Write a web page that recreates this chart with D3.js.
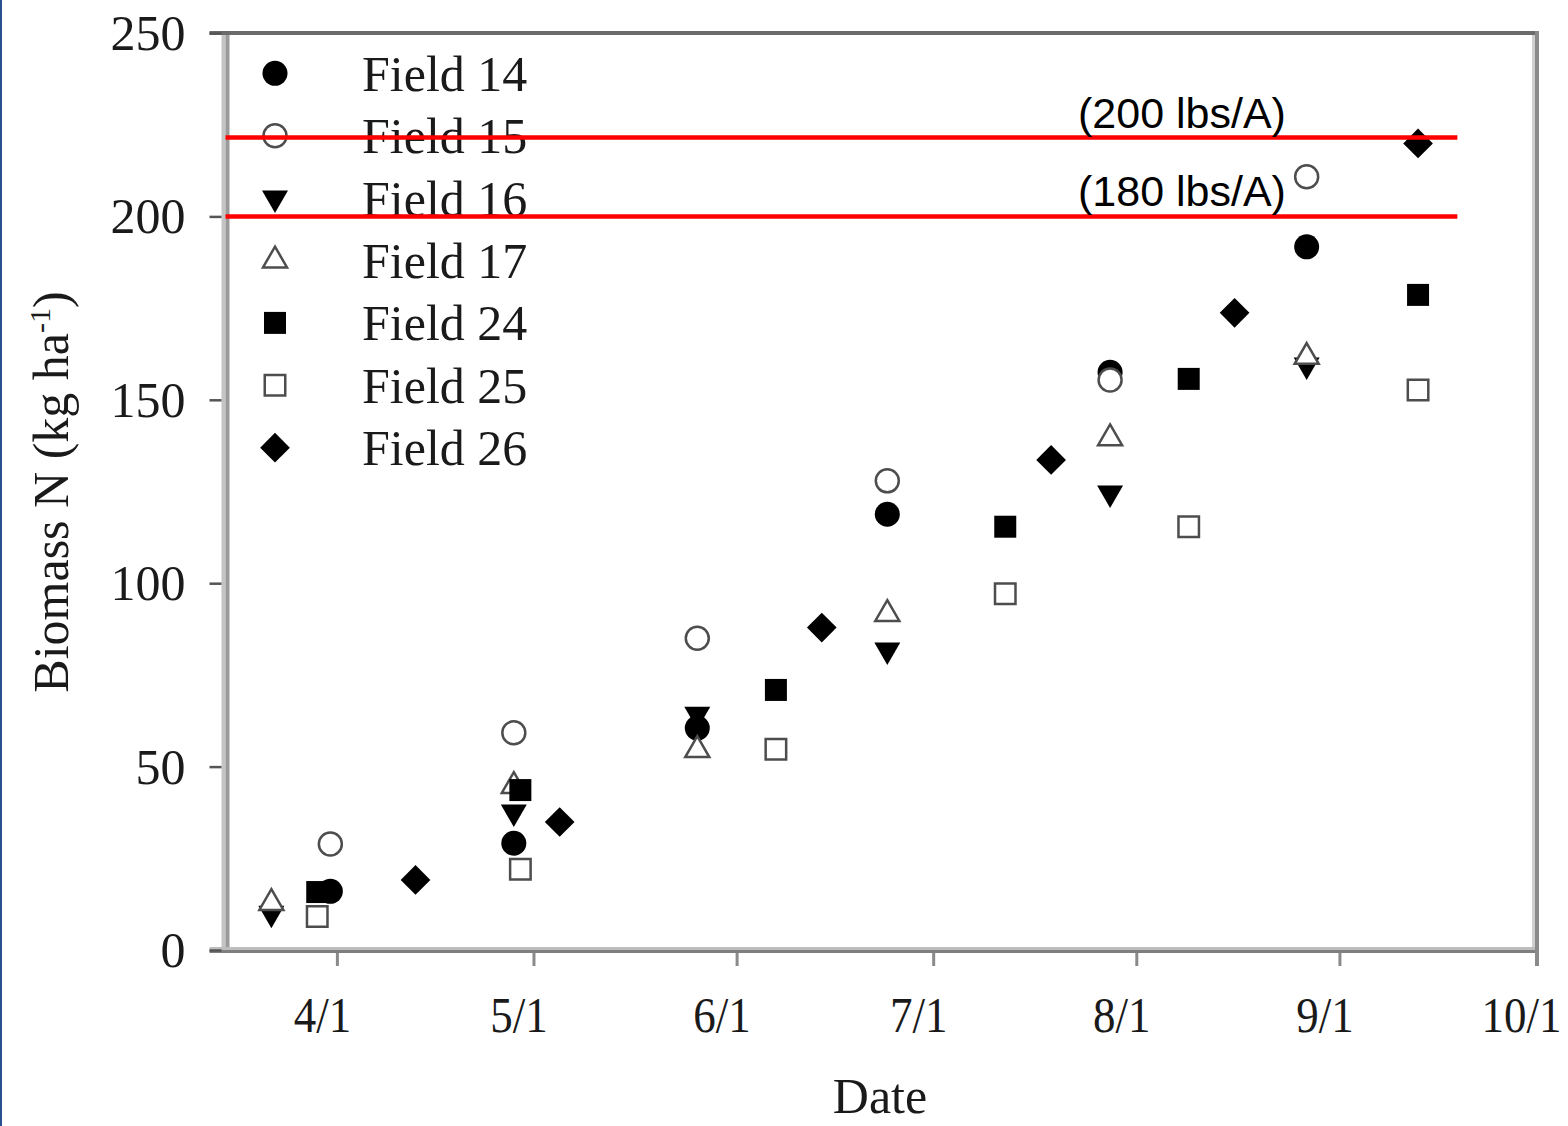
<!DOCTYPE html>
<html>
<head>
<meta charset="utf-8">
<script src="https://cdn.jsdelivr.net/npm/d3@7"></script>
<style>
  body { margin: 0; background: #fff; }
  svg { display: block; }
</style>
</head>
<body>
<div id="chartPlot"></div>
<script>
const fieldNames = ["Field 14", "Field 15", "Field 16", "Field 17", "Field 24", "Field 25", "Field 26"];

const field14 = [["3/31", 16.0], ["4/28", 29.1], ["5/26", 60.5], ["6/24", 118.8], ["7/28", 157.5], ["8/27", 191.7]];
const field15 = [["3/31", 28.9], ["4/28", 59.2], ["5/26", 85.0], ["6/24", 127.9], ["7/28", 155.4], ["8/27", 210.8]];
const field16 = [["3/22", 10.0], ["4/28", 37.6], ["5/26", 64.3], ["6/24", 81.8], ["7/28", 124.6], ["8/27", 159.5]];
const field17 = [["3/22", 12.8], ["4/28", 44.7], ["5/26", 54.5], ["6/24", 91.6], ["7/28", 139.5], ["8/27", 161.7]];
const field24 = [["3/29", 15.8], ["4/29", 43.6], ["6/7", 70.9], ["7/12", 115.4], ["8/9", 155.7], ["9/13", 178.6]];
const field25 = [["3/29", 9.1], ["4/29", 22.0], ["6/7", 54.7], ["7/12", 97.1], ["8/9", 115.4], ["9/13", 152.7]];
const field26 = [["4/13", 19.1], ["5/5", 34.9], ["6/14", 87.9], ["7/19", 133.6], ["8/16", 173.7], ["9/13", 219.9]];

const xTickLabels = ["4/1", "5/1", "6/1", "7/1", "8/1", "9/1", "10/1"];
const yTickValues = [0, 50, 100, 150, 200, 250];

const limitLabels = ["(200 lbs/A)", "(180 lbs/A)"];
const limitValues = [221.5, 200];

document.addEventListener("DOMContentLoaded", () => {
  const width = 1568;
  const height = 1126;
  const serif = "'Liberation Serif', 'Times New Roman', serif";
  const sans = "'Liberation Sans', Arial, sans-serif";

  const toDate = (s) => d3.timeParse("%m/%d/%Y")(s + "/2010");

  const series = [field14, field15, field16, field17, field24, field25, field26].map((rows, i) => ({
    name: fieldNames[i],
    points: rows.map(([d, v]) => ({ date: toDate(d), value: v })),
  }));

  // marker look for each field, in legend order
  const markers = [
    { type: d3.symbolCircle, size: Math.PI * 12.5 * 12.5, filled: true, rotate: 0 },
    { type: d3.symbolCircle, size: Math.PI * 11.5 * 11.5, filled: false, rotate: 0 },
    { type: d3.symbolTriangle, size: 292, filled: true, rotate: 180 },
    { type: d3.symbolTriangle, size: 250, filled: false, rotate: 0 },
    { type: d3.symbolSquare, size: 484, filled: true, rotate: 0 },
    { type: d3.symbolSquare, size: 420, filled: false, rotate: 0 },
    { type: d3.symbolSquare, size: 441, filled: true, rotate: 45 },
  ];

  const x = d3.scaleTime().domain([toDate("3/15"), toDate("10/1")]).range([225.5, 1536]);
  const y = d3.scaleLinear().domain([0, 250]).range([950, 33]);

  const svg = d3
    .select("#chartPlot")
    .append("svg")
    .attr("width", width)
    .attr("height", height);

  svg.append("rect").attr("width", width).attr("height", height).attr("fill", "#fff");
  svg.append("rect").attr("x", 0).attr("y", 0).attr("width", 2).attr("height", height).attr("fill", "#27508f");

  const [x0, x1] = x.range();
  const [yb, yt] = y.range();

  // frame
  const frame = svg.append("g");
  frame.append("rect").attr("x", x0 - 16).attr("y", yt - 2).attr("width", x1 - x0 + 19).attr("height", 4).attr("fill", "#6b6b6b");
  frame.append("rect").attr("x", x0 - 4).attr("y", yt + 2).attr("width", 4).attr("height", yb - yt).attr("fill", "#c4c4c4");
  frame.append("rect").attr("x", x0).attr("y", yt + 2).attr("width", 4).attr("height", yb - yt).attr("fill", "#9a9a9a");
  frame.append("rect").attr("x", x0 - 16).attr("y", yb - 3).attr("width", x1 - x0 + 19).attr("height", 3).attr("fill", "#bdbdbd");
  frame.append("rect").attr("x", x0 - 16).attr("y", yb).attr("width", x1 - x0 + 19).attr("height", 3).attr("fill", "#7f7f7f");
  frame.append("rect").attr("x", x1 - 4).attr("y", yt + 2).attr("width", 3).attr("height", yb - yt - 5).attr("fill", "#cfcfcf");
  frame.append("rect").attr("x", x1 - 1).attr("y", yt - 2).attr("width", 4).attr("height", yb - yt + 18).attr("fill", "#8a8a8a");

  // y axis
  const yAxis = svg
    .append("g")
    .attr("transform", `translate(${x0 - 4},0)`)
    .call(d3.axisLeft(y).tickValues(yTickValues).tickSize(12).tickPadding(24));
  yAxis.select(".domain").remove();
  yAxis.selectAll(".tick line").attr("stroke", "#555").attr("stroke-width", 2.5);
  yAxis
    .selectAll(".tick text")
    .attr("fill", "#1a1a1a")
    .style("font-family", serif)
    .style("font-size", "50px")
    .attr("dy", "0.33em");

  // x axis
  const xAxis = svg
    .append("g")
    .attr("transform", `translate(0,${yb + 3})`)
    .call(
      d3
        .axisBottom(x)
        .tickValues(xTickLabels.map(toDate))
        .tickFormat((d, i) => xTickLabels[i])
        .tickSize(13)
        .tickPadding(31)
    );
  xAxis.select(".domain").remove();
  xAxis.selectAll(".tick line").attr("stroke", "#8a8a8a").attr("stroke-width", 3);
  xAxis
    .selectAll(".tick text")
    .attr("fill", "#1a1a1a")
    .style("font-family", serif)
    .style("font-size", "50px")
    .attr("transform", "translate(-15,0) scale(0.9,1)");

  // axis titles
  svg
    .append("text")
    .attr("x", 880)
    .attr("y", 1113)
    .attr("text-anchor", "middle")
    .attr("fill", "#1a1a1a")
    .style("font-family", serif)
    .style("font-size", "50px")
    .text("Date");

  const yTitle = svg
    .append("text")
    .attr("transform", "translate(68,492) rotate(-90)")
    .attr("text-anchor", "middle")
    .attr("fill", "#1a1a1a")
    .style("font-family", serif)
    .style("font-size", "50px");
  yTitle.append("tspan").text("Biomass N (kg ha");
  yTitle.append("tspan").attr("dy", "-18").style("font-size", "30px").text("-1");
  yTitle.append("tspan").attr("dy", "18").text(")");

  const markerPath = (m) => d3.symbol(m.type, m.size)();

  const drawMarker = (sel, m) =>
    sel
      .append("path")
      .attr("d", markerPath(m))
      .attr("fill", m.filled ? "#000" : "#fff")
      .attr("stroke", m.filled ? "none" : "#4d4d4d")
      .attr("stroke-width", m.filled ? 0 : 2.5);

  // data points
  series.forEach((s, i) => {
    const m = markers[i];
    svg
      .append("g")
      .selectAll("g")
      .data(s.points)
      .enter()
      .append("g")
      .attr("transform", (d) => `translate(${x(d.date)},${y(d.value)}) rotate(${m.rotate})`)
      .each(function () {
        drawMarker(d3.select(this), m);
      });
  });

  // legend
  const legend = svg.append("g");
  series.forEach((s, i) => {
    const row = legend.append("g").attr("transform", `translate(275,${73.3 + i * 62.4})`);
    drawMarker(row.append("g").attr("transform", `rotate(${markers[i].rotate})`), markers[i]);
    row
      .append("text")
      .attr("x", 87)
      .attr("y", 17.5)
      .attr("fill", "#1a1a1a")
      .style("font-family", serif)
      .style("font-size", "50px")
      .text(s.name);
  });

  // N limit lines
  const limits = svg.append("g");
  limitValues.forEach((v, i) => {
    limits
      .append("line")
      .attr("x1", x0)
      .attr("x2", x(toDate("9/19")))
      .attr("y1", y(v))
      .attr("y2", y(v))
      .attr("stroke", "#ff0000")
      .attr("stroke-width", 4.5);
    limits
      .append("text")
      .attr("x", 1078)
      .attr("y", y(v) - 10)
      .attr("fill", "#000")
      .style("font-family", sans)
      .style("font-size", "43px")
      .text(limitLabels[i]);
  });
});
</script>
</body>
</html>
